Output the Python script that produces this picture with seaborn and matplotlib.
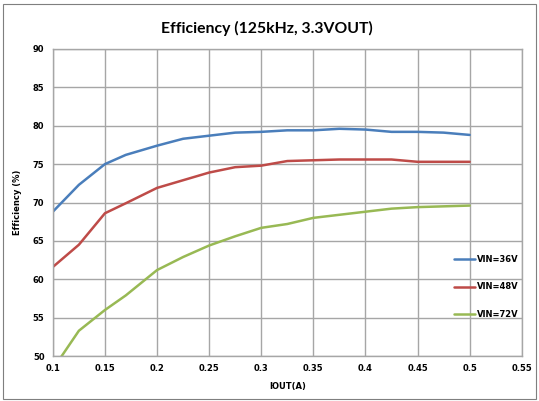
import matplotlib
matplotlib.use("Agg")
import matplotlib.pyplot as plt
from matplotlib.patches import Rectangle
import numpy as np
import pandas as pd
import seaborn as sns

iout = [0.10, 0.125, 0.15, 0.17, 0.20, 0.225, 0.25, 0.275, 0.30, 0.325,
        0.35, 0.375, 0.40, 0.425, 0.45, 0.475, 0.50]
eff_36v = [68.8, 72.3, 75.0, 76.2, 77.4, 78.3, 78.7, 79.1, 79.2, 79.4,
           79.4, 79.6, 79.5, 79.2, 79.2, 79.1, 78.8]
eff_48v = [61.6, 64.5, 68.6, 69.9, 71.9, 72.9, 73.9, 74.6, 74.8, 75.4,
           75.5, 75.6, 75.6, 75.6, 75.3, 75.3, 75.3]
eff_72v = [48.3, 53.3, 56.0, 57.9, 61.2, 62.9, 64.4, 65.6, 66.7, 67.2,
           68.0, 68.4, 68.8, 69.2, 69.4, 69.5, 69.6]
series = ["VIN=36V", "VIN=48V", "VIN=72V"]
colors = ["#4a7ebb", "#be4b48", "#98b954"]

df = pd.concat([
    pd.DataFrame({"iout": iout, "eff": vals, "vin": name})
    for name, vals in zip(series, [eff_36v, eff_48v, eff_72v])
], ignore_index=True)

sns.set_style("white")
plt.rcParams["font.family"] = ["DejaVu Sans"]
plt.rcParams["text.color"] = "black"
plt.rcParams["xtick.color"] = "black"
plt.rcParams["ytick.color"] = "black"
plt.rcParams["axes.labelcolor"] = "black"

fig = plt.figure(figsize=(5.39, 4.01), dpi=100)
ax = fig.add_axes([0.098, 0.112, 0.870, 0.766])

sns.lineplot(data=df, x="iout", y="eff", hue="vin", palette=colors,
             linewidth=1.8, ax=ax)

ax.set_xlim(0.1, 0.55)
ax.set_ylim(50, 90)
ax.set_xticks(np.arange(0.1, 0.5501, 0.05))
ax.set_xticklabels(["0.1", "0.15", "0.2", "0.25", "0.3", "0.35", "0.4", "0.45", "0.5", "0.55"])
ax.set_yticks(range(50, 91, 5))
ax.grid(True, color="#a6a6a6", linewidth=1.0)
for s in ax.spines.values():
    s.set_color("#a6a6a6")
    s.set_linewidth(1.0)
ax.tick_params(axis="both", labelsize=6, length=3, color="#a6a6a6", labelcolor="black", pad=3)
for lbl in ax.get_xticklabels() + ax.get_yticklabels():
    lbl.set_fontweight("bold")

ax.set_xlabel("IOUT(A)", fontsize=6, fontweight="bold", labelpad=6)
ax.set_ylabel("Efficiency (%)", fontsize=6, fontweight="bold", labelpad=8)
fig.suptitle("Efficiency (125kHz, 3.3VOUT)", x=0.495, y=0.947, fontsize=11.3,
             fontweight="bold", family=["Lato", "DejaVu Sans"], color="black")

leg = ax.legend(loc="center right", bbox_to_anchor=(1.01, 0.225), frameon=False,
                fontsize=6, handlelength=2.5, labelspacing=2.2, handletextpad=0.3)
for t in leg.get_texts():
    t.set_fontweight("bold")

fig.patches.append(Rectangle((0.006, 0.005), 0.988, 0.985, transform=fig.transFigure,
                             fill=False, edgecolor="#7f7f7f", linewidth=0.8))

fig.savefig("out.png", dpi=100)
